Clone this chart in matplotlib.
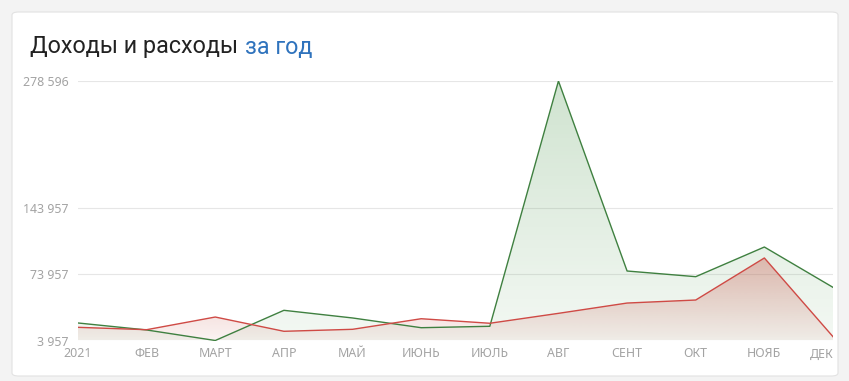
import matplotlib.pyplot as plt
import numpy as np
from matplotlib.patches import FancyBboxPatch
from matplotlib.transforms import ScaledTranslation

plt.rcParams['font.family'] = ['Roboto', 'DejaVu Sans']

months = ['2021', 'ФЕВ', 'МАРТ', 'АПР', 'МАЙ', 'ИЮНЬ', 'ИЮЛЬ', 'АВГ', 'СЕНТ', 'ОКТ', 'НОЯБ', 'ДЕК']
income = [22500, 15100, 3957, 35900, 27800, 17500, 19000, 278596, 77500, 71500, 102900, 60200]
expense = [17900, 15400, 28800, 13700, 15800, 27000, 22200, 32700, 43600, 46800, 91300, 7980]
yticks = [3957, 73957, 143957, 278596]

GREEN = '#3f8040'
RED = '#cf4a45'
TICKC = '#a3a3a3'


def gradient_fill(ax, x, y, base, rgb, a_top, a_bot, ymax, z):
    poly = ax.fill_between(x, y, base, facecolor='none', edgecolor='none', zorder=z)
    grad = np.linspace(a_bot, a_top, 256).reshape(-1, 1)
    img = np.zeros((256, 1, 4))
    img[..., 0], img[..., 1], img[..., 2] = rgb
    img[..., 3] = grad
    im = ax.imshow(img, extent=[x[0], x[-1], base, ymax], origin='lower',
                   aspect='auto', zorder=z, interpolation='bilinear')
    path = poly.get_paths()[0]
    im.set_clip_path(path, transform=ax.transData)


fig = plt.figure(figsize=(8.49, 3.81), dpi=100)
fig.patch.set_facecolor('#f3f3f3')
card = FancyBboxPatch((12 / 849, 5 / 381), 826 / 849, 364 / 381,
                      boxstyle='round,pad=0,rounding_size=0.008',
                      transform=fig.transFigure, facecolor='white',
                      edgecolor='#e2e2e2', linewidth=0.8, zorder=-5)
fig.patches.append(card)

t1 = fig.text(30 / 849, 1 - 47 / 381, 'Доходы и расходы', fontsize=16.8,
              color='#222222', va='center')
fig.canvas.draw()
bb = t1.get_window_extent()
fig.text(bb.x1 / 849 + 7 / 849, 1 - 47 / 381, 'за год', fontsize=16.8,
         color='#2f73bd', va='center')

ax = fig.add_axes([78 / 849, 1 - 340.5 / 381, (833 - 78) / 849, (340.5 - 81) / 381])
ax.set_facecolor('none')
x = np.arange(len(months))
base = yticks[0]

gradient_fill(ax, x, income, base, (0.42, 0.66, 0.42), 0.32, 0.08, max(income), 2)
gradient_fill(ax, x, expense, base, (0.80, 0.40, 0.36), 0.42, 0.08, max(expense), 3)
ax.plot(x, income, color=GREEN, lw=1, zorder=4)
ax.plot(x, expense, color=RED, lw=1, zorder=5)

ax.set_xlim(0, len(months) - 1)
ax.set_ylim(base, yticks[-1])
ax.set_yticks(yticks)
ax.set_yticklabels([f'{v:,}'.replace(',', ' ') for v in yticks],
                   family=['Noto Sans', 'DejaVu Sans'])
ax.set_xticks(x)
ax.set_xticklabels(months, family=['Noto Sans', 'DejaVu Sans'])
ax.grid(axis='y', color='#e6e6e6', lw=0.8, zorder=0)
ax.tick_params(length=0, colors=TICKC, labelsize=8.9)
ax.tick_params(axis='y', pad=7)
ax.tick_params(axis='x', pad=5)
last = ax.get_xticklabels()[-1]
last.set_transform(last.get_transform() + ScaledTranslation(-11 / 100, 0, fig.dpi_scale_trans))
for s in ax.spines.values():
    s.set_visible(False)

fig.savefig('out.png', dpi=100)
